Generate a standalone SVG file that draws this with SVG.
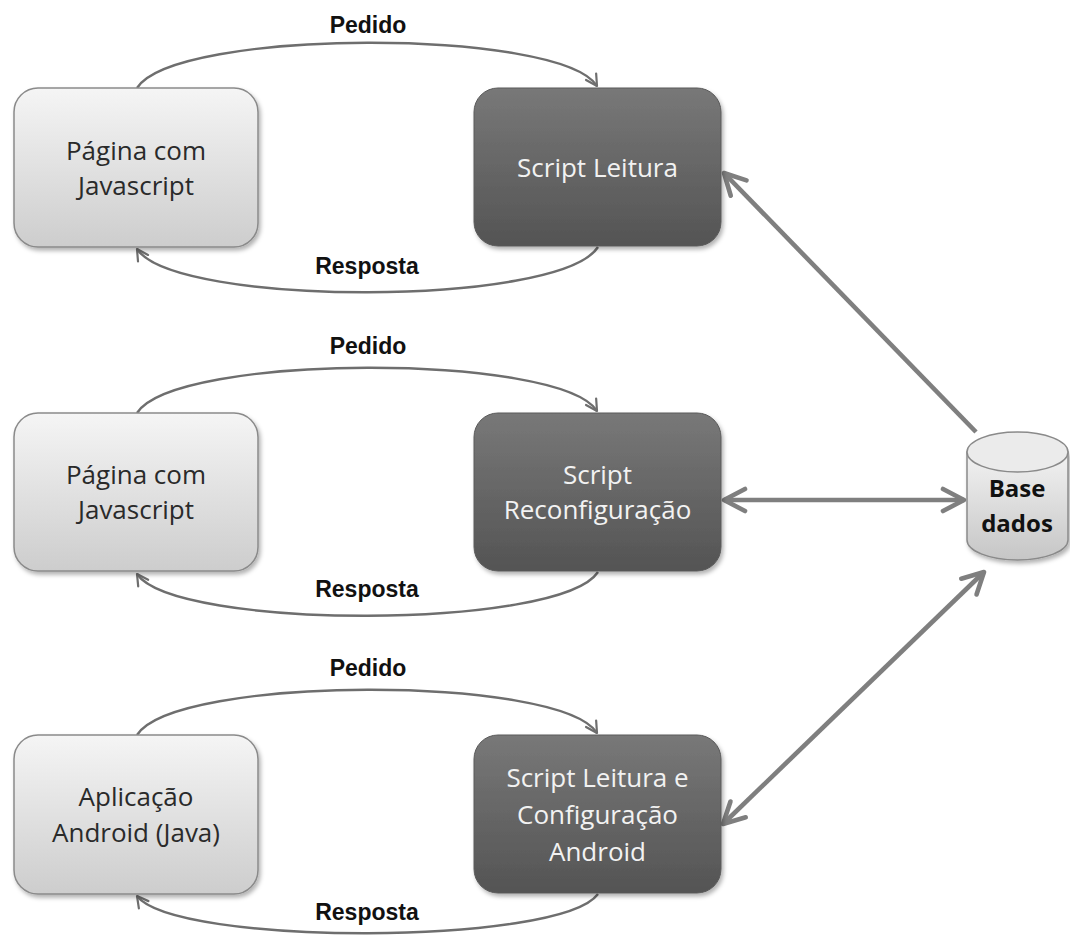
<svg xmlns="http://www.w3.org/2000/svg" width="1070" height="938" viewBox="0 0 1070 938">
  <defs>
    <linearGradient id="gradLight" x1="0" y1="0" x2="0" y2="1">
      <stop offset="0" stop-color="#f5f5f5"/>
      <stop offset="1" stop-color="#cdcdcd"/>
    </linearGradient>
    <linearGradient id="gradDark" x1="0" y1="0" x2="0" y2="1">
      <stop offset="0" stop-color="#787878"/>
      <stop offset="1" stop-color="#545454"/>
    </linearGradient>
    <linearGradient id="gradDb" x1="0" y1="0" x2="0" y2="1">
      <stop offset="0" stop-color="#f2f2f2"/>
      <stop offset="1" stop-color="#c6c6c6"/>
    </linearGradient>
    <filter id="shadow" x="-10%" y="-10%" width="125%" height="130%">
      <feDropShadow dx="2" dy="3" stdDeviation="2.2" flood-color="#000" flood-opacity="0.3"/>
    </filter>
    <marker id="openThin" viewBox="-16 -10 20 20" markerUnits="userSpaceOnUse" markerWidth="20" markerHeight="20" refX="0" refY="0" orient="auto-start-reverse">
      <path d="M-11,-6 L0,0 L-11,6" fill="none" stroke="#6e6e6e" stroke-width="2.2" stroke-linecap="round" stroke-linejoin="round"/>
    </marker>
    <marker id="openThick" viewBox="-28 -16 32 32" markerUnits="userSpaceOnUse" markerWidth="32" markerHeight="32" refX="0" refY="0" orient="auto-start-reverse">
      <path d="M-21,-11 L0,0 L-21,11" fill="none" stroke="#7f7f7f" stroke-width="4.6" stroke-linecap="round" stroke-linejoin="round"/>
    </marker>
  </defs>
  <style>
    .client { fill: url(#gradLight); stroke: #8a8a8a; stroke-width: 1.5; filter: url(#shadow); }
    .server { fill: url(#gradDark); stroke: #5a5a5a; stroke-width: 1; filter: url(#shadow); }
    .clientText { font-family: "Open Sans", "Liberation Sans", sans-serif; font-size: 26px; fill: #2a2a2a; text-anchor: middle; }
    .serverText { font-family: "Open Sans", "Liberation Sans", sans-serif; font-size: 26px; fill: #f2f2f2; text-anchor: middle; }
    .flow { fill: none; stroke: #6e6e6e; stroke-width: 2.4; marker-end: url(#openThin); }
    .link { fill: none; stroke: #7f7f7f; stroke-width: 4.6; }
    .label { font-family: "Liberation Sans", Arial, sans-serif; font-weight: bold; font-size: 23px; fill: #111; text-anchor: middle; }
    .dbText { font-family: "Open Sans", "Liberation Sans", sans-serif; font-weight: bold; font-size: 24px; fill: #111; text-anchor: middle; }
  </style>

  <rect width="1070" height="938" fill="#ffffff"/>

  <!-- request / response loops and database links -->
  <g id="connectors">
    <path class="flow" d="M137,88 C175,28 560,28 597,86"/>
    <path class="flow" d="M598,247 C560,307 175,307 137,249"/>
    <text class="label" x="368" y="33">Pedido</text>
    <text class="label" x="367" y="274">Resposta</text>

    <path class="flow" d="M137,413 C175,353 560,353 597,411"/>
    <path class="flow" d="M598,572 C560,630 175,630 137,574"/>
    <text class="label" x="368" y="354">Pedido</text>
    <text class="label" x="367" y="597">Resposta</text>

    <path class="flow" d="M137,735 C175,675 560,675 597,733"/>
    <path class="flow" d="M598,894 C560,946 175,946 137,896"/>
    <text class="label" x="368" y="676">Pedido</text>
    <text class="label" x="367" y="920">Resposta</text>

    <path class="link" d="M976,432 L724,173" marker-end="url(#openThick)"/>
    <path class="link" d="M724,500 L964,500" marker-start="url(#openThick)" marker-end="url(#openThick)"/>
    <path class="link" d="M723,824 L984,572" marker-start="url(#openThick)" marker-end="url(#openThick)"/>
  </g>

  <!-- clients -->
  <g id="page-js-1">
    <rect class="client" x="14" y="88" width="244" height="159" rx="24"/>
    <text class="clientText" x="136" y="160">Página com</text>
    <text class="clientText" x="136" y="195">Javascript</text>
  </g>
  <g id="page-js-2">
    <rect class="client" x="14" y="413" width="244" height="158" rx="24"/>
    <text class="clientText" x="136" y="484">Página com</text>
    <text class="clientText" x="136" y="519">Javascript</text>
  </g>
  <g id="android-app">
    <rect class="client" x="14" y="735" width="244" height="159" rx="24"/>
    <text class="clientText" x="136" y="806">Aplicação</text>
    <text class="clientText" x="136" y="842">Android (Java)</text>
  </g>

  <!-- server scripts -->
  <g id="script-leitura">
    <rect class="server" x="474" y="88" width="247" height="158" rx="24"/>
    <text class="serverText" x="597.5" y="177">Script Leitura</text>
  </g>
  <g id="script-reconfig">
    <rect class="server" x="474" y="413" width="247" height="158" rx="24"/>
    <text class="serverText" x="597.5" y="484">Script</text>
    <text class="serverText" x="597.5" y="519">Reconfiguração</text>
  </g>
  <g id="script-android">
    <rect class="server" x="474" y="735" width="247" height="158" rx="24"/>
    <text class="serverText" x="597.5" y="787">Script Leitura e</text>
    <text class="serverText" x="597.5" y="824">Configuração</text>
    <text class="serverText" x="597.5" y="861">Android</text>
  </g>

  <!-- database -->
  <g id="base-dados">
    <path d="M967,452 L967,540 A50.5,20 0 0 0 1068,540 L1068,452 Z" fill="url(#gradDb)" stroke="#8a8a8a" stroke-width="1.5" filter="url(#shadow)"/>
    <ellipse cx="1017.5" cy="452" rx="50.5" ry="20" fill="#ebebeb" stroke="#8a8a8a" stroke-width="1.5"/>
    <text class="dbText" x="1017" y="497">Base</text>
    <text class="dbText" x="1017" y="532">dados</text>
  </g>
</svg>
